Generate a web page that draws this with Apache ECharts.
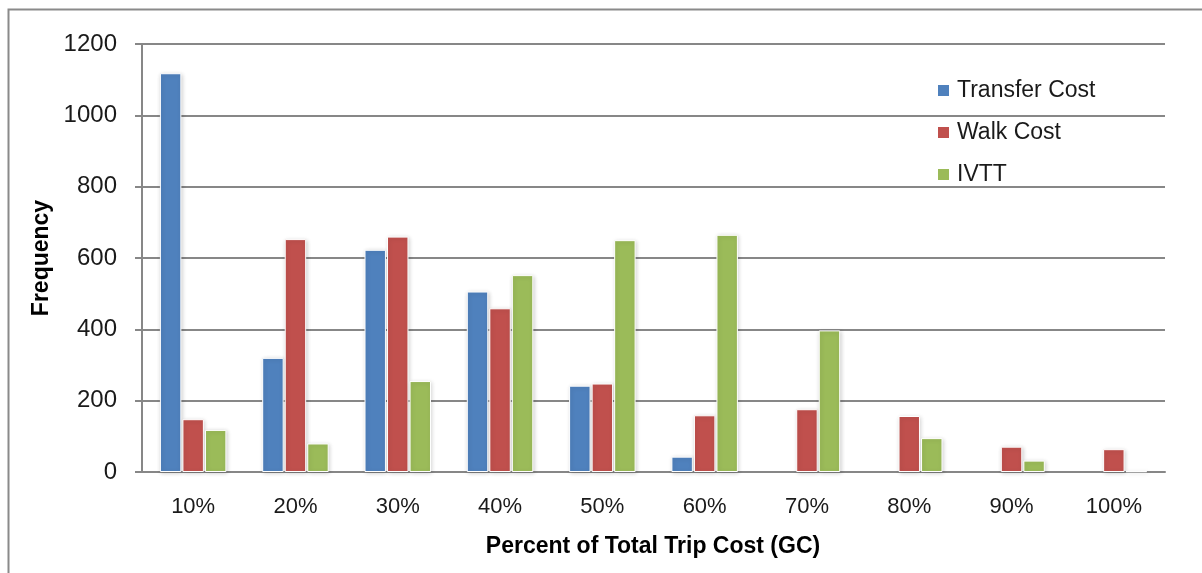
<!DOCTYPE html>
<html>
<head>
<meta charset="utf-8">
<script src="https://cdn.jsdelivr.net/npm/echarts@6/dist/echarts.min.js"></script>
<style>
  html, body { margin: 0; padding: 0; background: #ffffff; }
  #chart { width: 1202px; height: 573px; }
</style>
</head>
<body>
<div id="chart"></div>
<script>
// Share of total trip generalized cost, binned by 10%
const categories = ['10%', '20%', '30%', '40%', '50%', '60%', '70%', '80%', '90%', '100%'];
const transferCost = [1118, 320, 623, 506, 242, 43, 0, 0, 0, 0];
const walkCost = [148, 653, 660, 459, 248, 159, 176, 157, 71, 64];
const ivtt = [118, 80, 255, 552, 650, 665, 397, 95, 32, 2];
const yTicks = [0, 200, 400, 600, 800, 1000, 1200];

const FONT = '"Liberation Sans", Arial, sans-serif';
const GRID_COLOR = '#878787';

const barStyle = (color) => ({
  color: color,
  borderColor: '#ffffff',
  borderWidth: 1,
  shadowColor: 'rgba(0,0,0,0.18)',
  shadowBlur: 4,
  shadowOffsetX: 1,
  shadowOffsetY: 1
});

// empty bins get no outline or shadow so nothing shows on the baseline
const toItems = (values) => values.map((v) =>
  v === 0 ? { value: v, itemStyle: { borderWidth: 0, shadowBlur: 0, shadowOffsetX: 0, shadowOffsetY: 0 } } : v
);

const chart = echarts.init(document.getElementById('chart'), null, { renderer: 'canvas' });

chart.setOption({
  animation: false,
  backgroundColor: '#ffffff',
  textStyle: { fontFamily: FONT },
  grid: { left: 142, right: 37, top: 44, bottom: 101, containLabel: false },
  legend: {
    orient: 'vertical',
    left: 931,
    top: 74,
    itemWidth: 13,
    itemHeight: 13,
    itemGap: 19,
    icon: 'rect',
    textStyle: { fontFamily: FONT, fontSize: 23, color: '#1a1a1a', padding: [0, 0, 0, 2] },
    data: ['Transfer Cost', 'Walk Cost', 'IVTT']
  },
  xAxis: {
    type: 'category',
    data: categories,
    axisLine: { show: true, lineStyle: { color: GRID_COLOR, width: 2 } },
    axisTick: { show: false },
    axisLabel: { fontFamily: FONT, fontSize: 22, color: '#1a1a1a', margin: 24 }
  },
  yAxis: {
    type: 'value',
    min: yTicks[0],
    max: yTicks[yTicks.length - 1],
    interval: yTicks[1] - yTicks[0],
    axisLine: { show: true, lineStyle: { color: GRID_COLOR, width: 2 } },
    axisTick: { show: true, length: 7, lineStyle: { color: GRID_COLOR, width: 2 } },
    axisLabel: {
      fontFamily: FONT, fontSize: 24, color: '#1a1a1a', margin: 25,
      formatter: (v) => String(v)
    },
    splitLine: { show: true, lineStyle: { color: GRID_COLOR, width: 2 } }
  },
  series: [
    { name: 'Transfer Cost', type: 'bar', data: toItems(transferCost), barGap: '5%', barCategoryGap: '35%', itemStyle: barStyle('#4F81BD') },
    { name: 'Walk Cost', type: 'bar', data: toItems(walkCost), itemStyle: barStyle('#C0504D') },
    { name: 'IVTT', type: 'bar', data: toItems(ivtt), itemStyle: barStyle('#9BBB59') }
  ],
  graphic: [
    {
      type: 'rect',
      silent: true,
      shape: { x: 8.5, y: 9.5, width: 1300, height: 700 },
      style: { fill: 'none', stroke: '#8a8a8a', lineWidth: 2 }
    },
    {
      type: 'text',
      silent: true,
      x: 42,
      y: 258,
      rotation: Math.PI / 2,
      style: {
        text: 'Frequency',
        font: 'bold 23px ' + FONT,
        fill: '#000000',
        align: 'center',
        verticalAlign: 'middle'
      }
    },
    {
      type: 'text',
      silent: true,
      x: 653,
      y: 547,
      style: {
        text: 'Percent of Total Trip Cost (GC)',
        font: 'bold 23px ' + FONT,
        fill: '#000000',
        align: 'center',
        verticalAlign: 'middle'
      }
    }
  ]
});
</script>
</body>
</html>
